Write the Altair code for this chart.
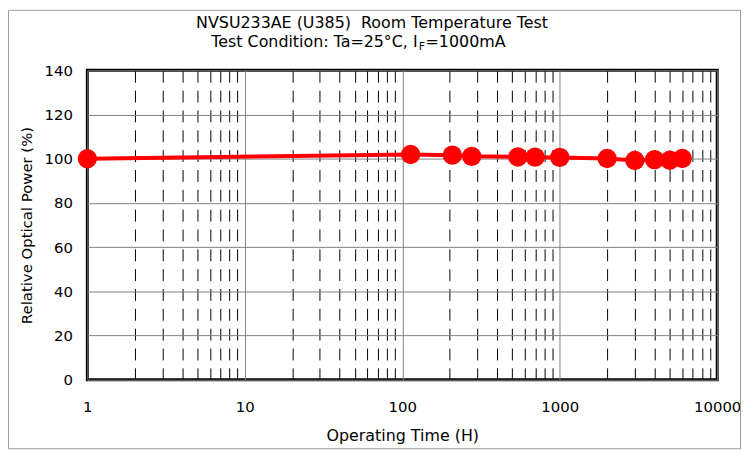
import altair as alt
import pandas as pd

# ---- data ----
hours = [1, 113, 208, 276, 542, 697, 1000, 2000, 3000, 4000, 5000, 6000]
power = [100.0, 101.9, 101.6, 101.1, 100.8, 100.7, 100.6, 100.1, 99.2, 99.6, 99.3, 100.1]

x_tick_values = [1, 2, 3, 4, 5, 6, 7, 8, 9,
                 10, 20, 30, 40, 50, 60, 70, 80, 90,
                 100, 200, 300, 400, 500, 600, 700, 800, 900,
                 1000, 2000, 3000, 4000, 5000, 6000, 7000, 8000, 9000,
                 10000]
x_decades = [1, 10, 100, 1000, 10000]
y_tick_values = [0, 20, 40, 60, 80, 100, 120, 140]

title_line1 = "NVSU233AE (U385)\u00a0 Room Temperature Test"
title_line2_a = "Test Condition: Ta=25°C, I"
title_line2_sub = "F"
title_line2_b = "=1000mA"
x_title = "Operating Time (H)"
y_title = "Relative Optical Power (%)"

FONT = "DejaVu Sans"
W, H = 635, 312

df = pd.DataFrame({"hours": hours, "power": power})

decade_test = "indexof([" + ",".join(str(v) for v in x_decades) + "], datum.value) >= 0"

x_enc = alt.X(
    "hours:Q",
    scale=alt.Scale(type="log", domain=[1, 10000], nice=False),
    axis=alt.Axis(
        values=x_tick_values,
        labelExpr=decade_test + " ? format(datum.value, 'd') : ''",
        labelOverlap=False,
        labelFlush=False,
        ticks=False,
        domain=False,
        labelPadding=20,
        labelFontSize=15,
        labelFont=FONT,
        labelColor="#000000",
        grid=True,
        gridColor={"condition": {"test": decade_test, "value": "#808080"}, "value": "#000000"},
        gridDash={"condition": {"test": decade_test, "value": []}, "value": [12, 8]},
        gridWidth=1,
        gridOpacity=1,
        title=x_title,
        titleFont=FONT,
        titleFontSize=16,
        titleFontWeight="normal",
        titleColor="#000000",
        titleX=W / 2,
        titleY=61,
        titleAlign="center",
        titleBaseline="alphabetic",
    ),
)

y_enc = alt.Y(
    "power:Q",
    scale=alt.Scale(domain=[0, 140], nice=False),
    axis=alt.Axis(
        values=y_tick_values,
        ticks=False,
        domain=False,
        labelPadding=15,
        labelFontSize=15,
        labelFont=FONT,
        labelColor="#000000",
        grid=True,
        gridColor="#808080",
        gridWidth=1,
        gridOpacity=1,
        title=y_title,
        titleFont=FONT,
        titleFontSize=15,
        titleFontWeight="normal",
        titleColor="#000000",
        titleX=-61,
        titleY=H / 2,
        titleAlign="center",
        titleBaseline="middle",
        titleAngle=270,
    ),
)

base = alt.Chart(df)
line = base.mark_line(color="#ff0000", strokeWidth=4).encode(x=x_enc, y=y_enc)
points = base.mark_circle(color="#ff0000", size=380, opacity=1).encode(x="hours:Q", y="power:Q")

t1 = alt.Chart(pd.DataFrame({"t": [title_line1]})).mark_text(
    font=FONT, fontSize=16, align="center", baseline="alphabetic", color="#000000"
).encode(text="t:N", x=alt.value(287), y=alt.value(-43))

t2a = alt.Chart(pd.DataFrame({"t": [title_line2_a]})).mark_text(
    font=FONT, fontSize=16, align="right", baseline="alphabetic", color="#000000"
).encode(text="t:N", x=alt.value(333), y=alt.value(-23))

t2s = alt.Chart(pd.DataFrame({"t": [title_line2_sub]})).mark_text(
    font=FONT, fontSize=11, align="left", baseline="alphabetic", color="#000000"
).encode(text="t:N", x=alt.value(334), y=alt.value(-20))

t2b = alt.Chart(pd.DataFrame({"t": [title_line2_b]})).mark_text(
    font=FONT, fontSize=16, align="left", baseline="alphabetic", color="#000000"
).encode(text="t:N", x=alt.value(341), y=alt.value(-23))

frame = alt.Chart(pd.DataFrame({"f": [0]})).mark_rect(
    fillOpacity=0, stroke="#9a9a9a", strokeWidth=1
).encode(x=alt.value(-79.5), x2=alt.value(658.5), y=alt.value(-60.5), y2=alt.value(381.5))

chart = alt.layer(frame, line, points, t1, t2a, t2s, t2b).properties(
    width=W,
    height=H,
    autosize="none",
    padding={"left": 80, "top": 61, "right": 24, "bottom": 71},
    background="#ffffff",
).configure_view(
    stroke="#000000", strokeWidth=3
)

chart.save("out.html", embed_options={"renderer": "svg", "actions": False})
